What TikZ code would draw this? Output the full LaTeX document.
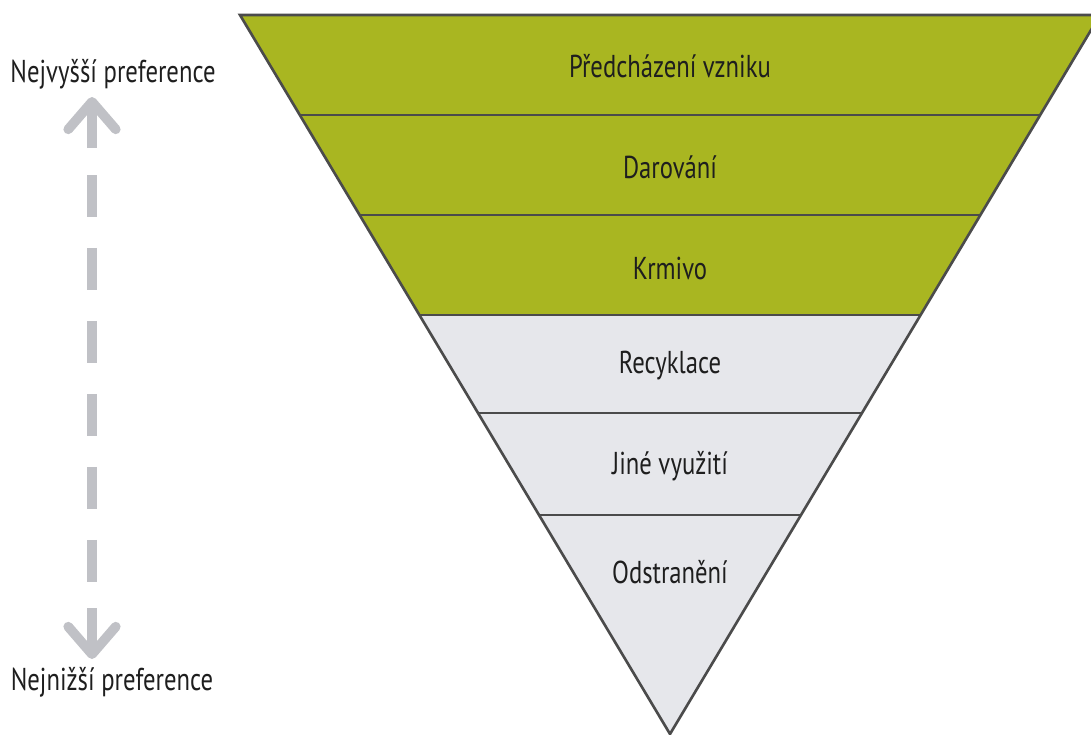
\documentclass[tikz,border=0pt]{standalone}
\usepackage{fontspec}
\setmainfont{PT Sans}[FakeStretch=0.78]
\usepackage{tikz}
\usetikzlibrary{arrows.meta,calc,positioning}
\definecolor{bandgreen}{RGB}{169,182,33}
\definecolor{bandgray}{RGB}{230,231,235}
\definecolor{edgegray}{RGB}{75,75,75}
\definecolor{arrowgray}{RGB}{192,193,198}
\definecolor{textdark}{RGB}{30,30,30}
\tikzstyle{green band}=[fill=bandgreen]
\tikzstyle{gray band} =[fill=bandgray]
\tikzstyle{band line} =[draw=edgegray, line width=1.5pt, line join=miter]
\tikzstyle{level}     =[inner sep=0pt, text=textdark, font=\fontsize{18}{20}\selectfont]
\tikzstyle{pref}      =[inner sep=0pt, text=textdark, font=\fontsize{18}{20}\selectfont]
\tikzstyle{pref tip}  =[draw=arrowgray, line width=5.5pt,
                        -{Straight Barb[length=0.55cm, width=0.95cm, line cap=round, line join=round]}]
\tikzstyle{pref dash} =[draw=arrowgray, line width=5.5pt,
                        dash pattern=on 0.84cm off 0.62cm]

\begin{document}
\begin{tikzpicture}[x=0.02cm, y=-0.02cm]
    \useasboundingbox (0,0) rectangle (1091,734);
    \begin{scope}
        \clip (0,0) rectangle (1091,734);
        % corners of the triangle
        \coordinate (tl) at (240,15);
        \coordinate (tr) at (1100,15);
        \coordinate (ap) at (670,734);
        % band boundaries
        \coordinate (l1) at ($(tl)!.1391!(ap)$);
        \coordinate (r1) at ($(tr)!.1391!(ap)$);
        \coordinate (l2) at ($(tl)!.2782!(ap)$);
        \coordinate (r2) at ($(tr)!.2782!(ap)$);
        \coordinate (l3) at ($(tl)!.4172!(ap)$);
        \coordinate (r3) at ($(tr)!.4172!(ap)$);
        \coordinate (l4) at ($(tl)!.5535!(ap)$);
        \coordinate (r4) at ($(tr)!.5535!(ap)$);
        \coordinate (l5) at ($(tl)!.6954!(ap)$);
        \coordinate (r5) at ($(tr)!.6954!(ap)$);
        \fill[gray band] (l3) -- (r3) -- (ap) -- cycle;
        \fill[green band] (tl) -- (tr) -- (r3) -- (l3) -- cycle;
        \draw[band line] (l1) -- (r1);
        \draw[band line] (l2) -- (r2);
        \draw[band line] (l3) -- (r3);
        \draw[band line] (l4) -- (r4);
        \draw[band line] (l5) -- (r5);
        \draw[band line] (tl) -- (tr) -- (ap) -- cycle;
    \end{scope}
    % levels
    \node[level] (prevent) at (670,66)  {Předcházení vzniku};
    \node[level] (donate)  at (670,167) {Darování};
    \node[level] (feed)    at (670,268) {Krmivo};
    \node[level] (recycle) at (670,366) {Recyklace};
    \node[level] (reuse)   at (670,466) {Jiné využití};
    \node[level] (dispose) at (670,572) {Odstranění};
    % preference scale
    \node[pref] (high) at (113,74)  {Nejvyšší preference};
    \node[pref] (low)  at (112,682) {Nejnižší preference};
    \coordinate (hitip) at (92,97);
    \coordinate (hiend) at (92,148);
    \coordinate (lotip) at (92,659);
    \coordinate (loend) at (92,608);
    \coordinate (dtop)  at (92,175);
    \coordinate (dbot)  at (92,582);
    \draw[pref tip] (hiend) -- (hitip);
    \draw[pref tip] (loend) -- (lotip);
    \draw[pref dash] (dtop) -- (dbot);
\end{tikzpicture}
\end{document}
